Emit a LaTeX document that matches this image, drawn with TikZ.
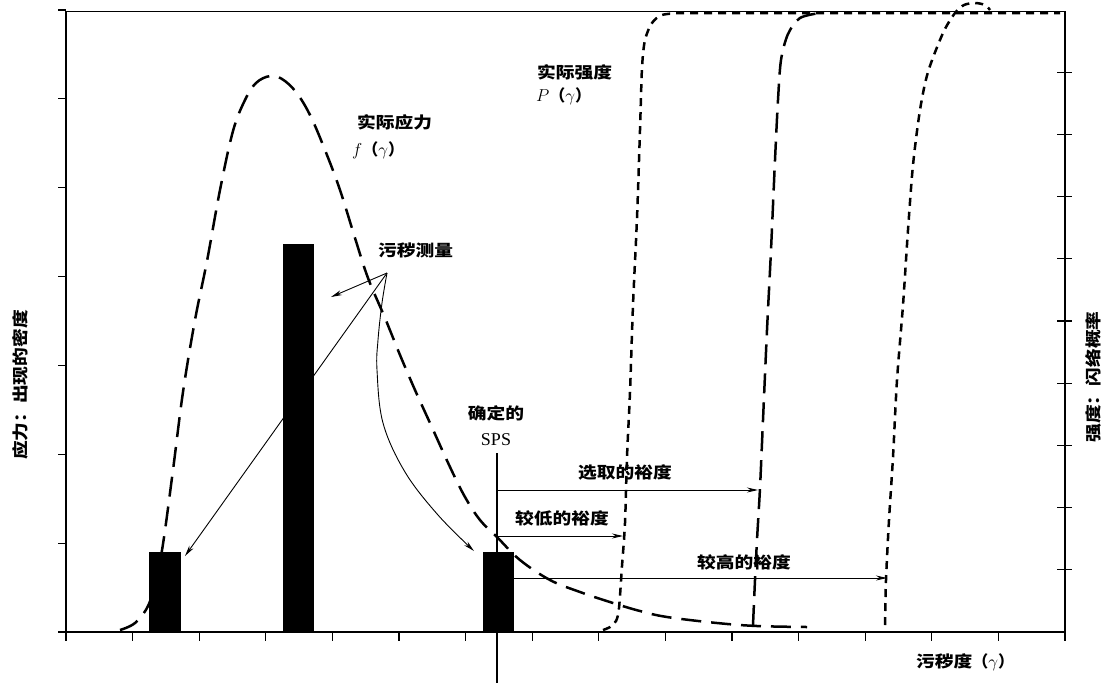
\documentclass[tikz,border=0pt]{standalone}
\usepackage{fontspec}
\usepackage{graphicx}
\newfontfamily\cjk{Noto Sans CJK SC}
\newfontfamily\tms{Liberation Serif}
\usetikzlibrary{arrows.meta}
\newcommand{\zh}[1]{{\cjk\bfseries\scalebox{1.17}[1]{#1}}}
\newcommand{\zp}[1]{{\cjk\bfseries #1}}
\newcommand{\mg}[1]{{\fontsize{18}{20}\selectfont$#1$}}
\begin{document}
\begin{tikzpicture}[x=1pt,y=-1pt,
  frame/.style={line width=1.4pt},
  tickmark/.style={line width=1.1pt},
  stresscurve/.style={line width=2.5pt, dash pattern=on 20pt off 10pt},
  shortdash/.style={line width=2.5pt, dash pattern=on 8pt off 6pt},
  longdash/.style={line width=2.5pt, dash pattern=on 20pt off 9pt},
  bar/.style={fill=black, draw=none, inner sep=0pt, anchor=south west},
  arr/.style={line width=0.9pt, -{Stealth[length=11pt,width=5pt]}},
  lbl/.style={inner sep=0pt, font=\fontsize{16}{18}\selectfont},
  latin/.style={inner sep=0pt, font=\fontsize{18}{20}\selectfont\tms}]
\useasboundingbox (0,0) rectangle (1113,683);
\fill[white] (0,0) rectangle (1113,683);

% frame
\draw[frame] (66,632) -- (66,11);
\draw[line width=1pt] (66,11) -- (1065,11);
\draw[frame] (1065,11) -- (1065,632);
\draw[line width=1.8pt] (58,632) -- (1065,632);
% ticks
\foreach \k in {0,...,15} \draw[tickmark] ({66+66.6*\k},632) -- ({66+66.6*\k},641);
\foreach \k in {0,...,7} \draw[tickmark] (58,{632-88.86*\k}) -- (66,{632-88.86*\k});
\foreach \k in {1,...,9} \draw[tickmark] (1057,{632-62.2*\k}) -- (1072,{632-62.2*\k});

% bars
\node[bar, minimum width=32pt, minimum height=80pt] (bar1) at (149,632) {};
\node[bar, minimum width=31pt, minimum height=388pt] (bar2) at (283,632) {};
\node[bar, minimum width=31pt, minimum height=80pt] (bar3) at (483,632) {};

% stress curve
\draw[stresscurve] plot[smooth, tension=0.6] coordinates {
 (120,630) (135,623) (148,606) (156,580) (163,544) (173,470) (183,392) (195,320)
 (207,261) (220,190) (233,131) (245,100) (256,83) (270,76) (282,79) (296,92)
 (310,115) (325,150) (340,190) (355,238) (368,278) (385,318) (400,355) (415,390)
 (430,423) (450,467) (465,497) (480,520) (497,537) (520,560) (550,580) (580,592)
 (613,603) (640,611) (667,617) (717,623) (757,626) (807,627)};

% strength curves
\draw[shortdash] plot[smooth, tension=0.5] coordinates {
 (603,630) (610,627) (616,621) (619,608) (622,566) (625,523) (627,457) (630,392)
 (633,305) (637,218) (640,130) (642,68) (645,40) (652,23) (662,15) (680,13)}
 -- (1060,13);
\draw[longdash] plot[smooth, tension=0.5] coordinates {
 (753,625) (755,580) (757,540) (760,488) (763,420) (767,330) (771,250) (775,160)
 (778,100) (781,60) (788,34) (800,18) (820,13)};
\draw[shortdash] plot[smooth, tension=0.5] coordinates {
 (885,625) (886,580) (889,520) (893,457) (897,380) (903,305) (908,230) (913,165)
 (920,110) (928,72) (943,33) (955,13) (964,5) (975,3) (985,5) (990,10)};

% pollution measurement arrows
\coordinate (meas) at (387,273);
\coordinate (m1) at (185,556);
\coordinate (m2) at (331,297);
\coordinate (m3) at (474,551);
\node[lbl, anchor=west] (measlbl) at (378,250) {\zh{污秽测量}};
\draw[arr] (meas) -- (m2);
\draw[arr] (meas) -- (m1);
\draw[arr] plot[smooth, tension=0.6] coordinates {(meas) (382,303) (378,340) (377,370) (383,423) (405,472) (438,515) (m3)};

% SPS line and margins
\coordinate (spsTop) at (497,453);
\coordinate (spsBot) at (497,683);
\draw[line width=1.4pt] (spsTop) -- (spsBot);
\node[lbl] (spslbl1) at (496,413) {\zh{确定的}};
\node[latin] (spslbl2) at (496,440) {SPS};

\coordinate (selA) at (497,490);
\coordinate (selB) at (758,490);
\coordinate (lowA) at (497,536);
\coordinate (lowB) at (623,536);
\coordinate (highA) at (514,578);
\coordinate (highB) at (887,578);
\draw[arr] (selA) -- (selB);
\draw[arr] (lowA) -- (lowB);
\draw[arr] (highA) -- (highB);
\node[lbl] (sellbl) at (625,472) {\zh{选取的裕度}};
\node[lbl] (lowlbl) at (562,518) {\zh{较低的裕度}};
\node[lbl] (highlbl) at (744,562) {\zh{较高的裕度}};

% curve labels
\node[lbl, anchor=west] (stresslbl) at (357,122) {\zh{实际应力}};
\node[lbl, anchor=west] (stressf) at (352,150) {\mg{f}\zp{（}\mg{\gamma}\zp{）}};
\node[lbl, anchor=west] (strlbl) at (537,72) {\zh{实际强度}};
\node[lbl, anchor=west] (strP) at (536,96) {\mg{P}\zp{（}\mg{\gamma}\zp{）}};

% axis labels
\node[lbl, anchor=west] (xlbl) at (916,662) {\zh{污秽度}\zp{（}\mg{\gamma}\zp{）}};
\node[lbl, rotate=90] (ylbl) at (20,385) {\zh{应力：出现的密度}};
\node[lbl, rotate=90] (y2lbl) at (1093,377) {\zh{强度：闪络概率}};
\end{tikzpicture}
\end{document}
